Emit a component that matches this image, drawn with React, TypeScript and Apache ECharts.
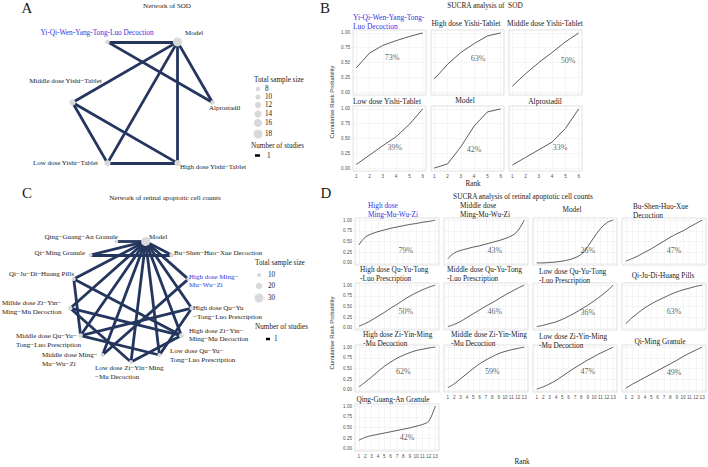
import React, { useEffect, useRef } from "react";
import * as echarts from "echarts";

// ================= DATA =================
// Panel A: network of SOD (nodes in circular order, starting at the right, clockwise)
const sodNodes = [
  "Alprostadil",
  "High dose Yishi−Tablet",
  "Low dose Yishi−Tablet",
  "Middle dose Yishi−Tablet",
  "Yi-Qi-Wen-Yang-Tong-Luo Decoction",
  "Model",
];
const sodNodeSampleSize = [8, 12, 12, 12, 8, 18];
const sodEdges: [number, number][] = [
  [4, 5], [4, 0], [5, 3], [5, 2], [5, 1], [5, 0], [3, 2], [3, 1], [2, 1],
];
const sodLegendSizes = [8, 10, 12, 14, 16, 18];

// Panel C: network of retinal apoptotic cell counts (circular order, starting at the bottom, clockwise)
const retNodes = [
  "Low dose Zi−Yin−Ming\n−Mu Decoction",
  "Middle dose Ming−\nMu−Wu−Zi",
  "Middle dose Qu−Yu−\nTong−Luo Prescription",
  "Millde dose Zi−Yin−\nMing−Mu Decoction",
  "Qi−Ju−Di−Huang Pills",
  "Qi−Ming Granule",
  "Qing−Guang−An Granule",
  "Model",
  "Bu−Shen−Huo−Xue Decoction",
  "High dose Ming−\nMu−Wu−Zi",
  "High dose Qu−Yu\n−Tong−Luo Prescription",
  "High dose Zi−Yin−\nMing−Mu Decoction",
  "Low dose Qu−Yu−\nTong−Luo Prescription",
];
const retNodeSampleSize = [10, 10, 12, 12, 10, 10, 10, 30, 12, 10, 12, 14, 10];
const retEdges: [number, number][] = [
  [7, 0], [7, 1], [7, 2], [7, 3], [7, 4], [7, 5], [7, 6], [7, 8], [7, 9], [7, 10], [7, 11], [7, 12],
  [5, 8], [11, 3], [11, 0], [3, 0], [10, 2], [10, 12], [2, 12], [9, 1], [4, 11], [4, 2],
];
const retLegendSizes = [10, 20, 30];
const studiesLegend = ["1"];

// Panel B: SUCRA of SOD
const sodRanks = [1, 2, 3, 4, 5, 6];
const sodTitles = [
  "Yi-Qi-Wen-Yang-Tong-\nLuo Decoction",
  "High dose Yishi-Tablet",
  "Middle dose Yishi-Tablet",
  "Low dose Yishi-Tablet",
  "Model",
  "Alprostadil",
];
const sodSucra = ["73%", "63%", "50%", "39%", "42%", "33%"];
const sodYiQi = [0.41, 0.66, 0.79, 0.87, 0.94, 1.0];
const sodHighYishi = [0.22, 0.47, 0.67, 0.82, 0.95, 1.0];
const sodMiddleYishi = [0.1, 0.31, 0.5, 0.67, 0.85, 1.0];
const sodLowYishi = [0.06, 0.22, 0.38, 0.53, 0.74, 1.0];
const sodModel = [0.0, 0.07, 0.36, 0.71, 0.95, 1.0];
const sodAlprostadil = [0.05, 0.18, 0.31, 0.44, 0.67, 1.0];
const sodCurves = [sodYiQi, sodHighYishi, sodMiddleYishi, sodLowYishi, sodModel, sodAlprostadil];

// Panel D: SUCRA of retinal apoptotic cell counts
const retRanks = [1, 2, 3, 4, 5, 6, 7, 8, 9, 10, 11, 12, 13];
const retTitles = [
  "High dose\nMing-Mu-Wu-Zi",
  "Middle dose\nMing-Mu-Wu-Zi",
  "Model",
  "Bu-Shen-Huo-Xue\nDecoction",
  "High dose Qu-Yu-Tong\n-Luo Prescription",
  "Middle dose Qu-Yu-Tong\n-Luo Prescription",
  "Low dose Qu-Yu-Tong\n-Luo Prescription",
  "Qi-Ju-Di-Huang Pills",
  "High dose Zi-Yin-Ming\n-Mu Decoction",
  "Middle dose Zi-Yin-Ming\n-Mu Decoction",
  "Low dose Zi-Yin-Ming\n-Mu Decoction",
  "Qi-Ming Granule",
  "Qing-Guang-An Granule",
];
const retSucra = ["79%", "43%", "26%", "47%", "50%", "46%", "36%", "63%", "62%", "59%", "47%", "49%", "42%"];
const retHighMMWZ = [0.42, 0.6, 0.68, 0.73, 0.77, 0.81, 0.84, 0.87, 0.9, 0.92, 0.95, 0.97, 1.0];
const retMiddleMMWZ = [0.1, 0.23, 0.29, 0.33, 0.37, 0.4, 0.44, 0.48, 0.52, 0.57, 0.63, 0.75, 1.0];
const retModel = [0.0, 0.0, 0.01, 0.02, 0.04, 0.07, 0.12, 0.2, 0.38, 0.6, 0.8, 0.94, 1.0];
const retBSHX = [0.04, 0.1, 0.17, 0.25, 0.33, 0.42, 0.51, 0.6, 0.68, 0.75, 0.84, 0.92, 1.0];
const retHighQYTL = [0.04, 0.1, 0.18, 0.27, 0.36, 0.46, 0.55, 0.65, 0.74, 0.82, 0.89, 0.95, 1.0];
const retMiddleQYTL = [0.03, 0.08, 0.15, 0.24, 0.33, 0.42, 0.51, 0.59, 0.68, 0.77, 0.85, 0.93, 1.0];
const retLowQYTL = [0.03, 0.06, 0.1, 0.14, 0.2, 0.27, 0.35, 0.44, 0.53, 0.63, 0.74, 0.86, 1.0];
const retQJDH = [0.1, 0.24, 0.36, 0.47, 0.56, 0.64, 0.71, 0.78, 0.84, 0.89, 0.93, 0.97, 1.0];
const retHighZYMM = [0.07, 0.18, 0.3, 0.43, 0.55, 0.65, 0.74, 0.81, 0.87, 0.92, 0.95, 0.98, 1.0];
const retMiddleZYMM = [0.05, 0.14, 0.26, 0.38, 0.5, 0.61, 0.7, 0.78, 0.85, 0.9, 0.94, 0.97, 1.0];
const retLowZYMM = [0.02, 0.07, 0.14, 0.22, 0.32, 0.42, 0.52, 0.61, 0.7, 0.78, 0.86, 0.93, 1.0];
const retQiMing = [0.04, 0.13, 0.21, 0.29, 0.37, 0.45, 0.53, 0.61, 0.69, 0.78, 0.86, 0.93, 1.0];
const retQGA = [0.2, 0.27, 0.31, 0.34, 0.37, 0.4, 0.43, 0.46, 0.49, 0.53, 0.57, 0.65, 1.0];
const retCurves = [
  retHighMMWZ, retMiddleMMWZ, retModel, retBSHX,
  retHighQYTL, retMiddleQYTL, retLowQYTL, retQJDH,
  retHighZYMM, retMiddleZYMM, retLowZYMM, retQiMing,
  retQGA,
];
const probTicks = [0, 0.25, 0.5, 0.75, 1];

// ================= LAYOUT / STYLE =================
const SERIF = '"Liberation Serif", "Times New Roman", serif';
const SANS = '"Liberation Sans", Arial, sans-serif';
const EDGE = "#24365e";
const NODE = "#d9d9d9";
const BLUE = "#3434e6";
const TXT = "#1a1a1a";

// label placement of network nodes: [align, dx, dy]
const sodLabelPos: [string, number, number][] = [
  ["left", -3.5, 5.5],
  ["left", 2.5, 4],
  ["right", -9.5, 0],
  ["center", -7, -21.5],
  ["center", -10.5, -9],
  ["left", 7.5, -9],
];
const retLabelPos: [string, number, number][] = [
  ["left", -36, 10.5],
  ["left", -60.6, 4.5],
  ["left", -64.6, 5],
  ["left", -68.2, -0.7],
  ["right", 0.2, -5],
  ["right", -5.4, -2],
  ["right", 1.6, -4.4],
  ["left", 3.4, -4.4],
  ["left", 2.4, -2],
  ["left", 0.8, 2],
  ["left", 1.2, 4.3],
  ["left", 7.6, -0.6],
  ["left", 10.6, 0.5],
];

const B_COLS = [353, 431, 509];
const B_ROWS = [30, 106];
const B_W = 73;
const B_H = 65;
const bTitlePos: [number, number, string][] = [
  [353, 21.5, "left"], [466, 23, "center"], [545, 23, "center"],
  [387, 101, "center"], [465, 100.5, "center"], [545, 101, "center"],
];
const bPctPos = [[3.7, 0.59], [4.3, 0.57], [5.2, 0.54], [3.9, 0.34], [4.0, 0.32], [4.6, 0.34]];

const D_COLS = [355, 444, 533, 622];
const D_ROWS = [218, 283, 345, 404];
const D_W = 84;
const D_H = 47;
const dTitlePos: [number, number, string][] = [
  [368, 209.5, "left"], [460, 209.5, "left"], [572, 209, "center"], [633, 210.5, "left"],
  [360, 274, "left"], [447, 273.5, "left"], [539, 276, "left"], [663, 275, "center"],
  [363, 339, "left"], [451, 338.5, "left"], [539, 340.5, "left"], [660, 341, "center"],
  [393, 399, "center"],
];
const dPctPos = [
  [8.4, 0.29], [8.4, 0.29], [9.0, 0.28], [8.6, 0.29],
  [8.4, 0.39], [8.4, 0.38], [9.0, 0.37], [8.6, 0.38],
  [8.0, 0.42], [8.0, 0.42], [9.0, 0.42], [8.6, 0.4],
  [8.6, 0.27],
];

const sodSize = (s: number) => 4.5 + (s - 8) * 0.45;
const retSize = (s: number) => 4 + (s - 10) * 0.25;

function txt(text: string, x: number, y: number, o: any = {}) {
  const align = o.align || "center";
  return {
    type: "text",
    silent: true,
    z: 20,
    x,
    y,
    rotation: o.rotation || 0,
    style: {
      text,
      x: 0,
      y: 0,
      fill: o.color || TXT,
      fontSize: o.size || 7.3,
      fontFamily: o.family || SERIF,
      align,
      verticalAlign: "middle",
      textAlign: align,
      textVerticalAlign: "middle",
      lineHeight: o.lh || 9,
    },
  };
}

function networkSeries(
  names: string[], sizes: number[], edges: [number, number][],
  cx: number, cy: number, r: number, startDeg: number,
  labelPos: [string, number, number][], sizeFn: (s: number) => number, blueIdx: number, blueSize: number
) {
  const n = names.length;
  const pts = names.map((_, i) => {
    const a = ((startDeg + (i * 360) / n) * Math.PI) / 180;
    return [cx + r * Math.cos(a), cy + r * Math.sin(a)];
  });
  const xs = pts.map((p) => p[0]);
  const ys = pts.map((p) => p[1]);
  const minX = Math.min(...xs);
  const maxX = Math.max(...xs);
  const minY = Math.min(...ys);
  const maxY = Math.max(...ys);
  return {
    type: "graph",
    layout: "none",
    silent: true,
    roam: false,
    left: minX,
    top: minY,
    width: maxX - minX,
    height: maxY - minY,
    symbol: "circle",
    z: 5,
    data: names.map((name, i) => ({
      name,
      x: pts[i][0],
      y: pts[i][1],
      symbolSize: sizeFn(sizes[i]),
      label: {
        show: true,
        position: "inside",
        align: labelPos[i][0],
        verticalAlign: "middle",
        offset: [labelPos[i][1], labelPos[i][2]],
        color: i === blueIdx ? BLUE : TXT,
        fontSize: i === blueIdx ? blueSize : 7,
        fontFamily: SERIF,
        lineHeight: 8.6,
        formatter: "{b}",
      },
    })),
    links: edges.map(([s, t]) => ({ source: s, target: t })),
    lineStyle: { color: EDGE, width: 2.8, opacity: 1, curveness: 0 },
    itemStyle: { color: NODE, borderWidth: 0, opacity: 1 },
    emphasis: { disabled: true },
  };
}

function buildOption() {
  const grids: any[] = [];
  const xAxes: any[] = [];
  const yAxes: any[] = [];
  const series: any[] = [];
  const graphic: any[] = [];

  function addPanel(
    left: number, top: number, w: number, h: number, ranks: number[], values: number[],
    showX: boolean, showY: boolean, pct: string, pctPos: number[], smooth: number | boolean
  ) {
    const i = grids.length;
    const n = ranks.length;
    const pad = (n - 1) * 0.05;
    grids.push({
      left, top, width: w, height: h, show: true,
      borderColor: "#cfcfcf", borderWidth: 0.6, backgroundColor: "#ffffff",
      containLabel: false, outerBoundsMode: "none",
    });
    xAxes.push({
      gridIndex: i, type: "value", min: 1 - pad, max: n + pad,
      axisLine: { show: false },
      axisTick: { show: false, customValues: ranks },
      axisLabel: {
        show: showX, customValues: ranks, fontSize: 4.6, color: "#4d4d4d",
        fontFamily: SANS, margin: 2.5, hideOverlap: false,
        showMinLabel: true, showMaxLabel: true,
      },
      splitLine: { show: true, lineStyle: { color: "#ebebeb", width: 0.5 } },
    });
    yAxes.push({
      gridIndex: i, type: "value", min: -0.05, max: 1.05,
      axisLine: { show: false },
      axisTick: { show: false, customValues: probTicks },
      axisLabel: {
        show: showY, customValues: probTicks, fontSize: 4.6, color: "#4d4d4d",
        fontFamily: SANS, margin: 3, formatter: (v: number) => v.toFixed(2),
        showMinLabel: true, showMaxLabel: true,
      },
      splitLine: { show: true, lineStyle: { color: "#ebebeb", width: 0.5 } },
    });
    series.push({
      type: "line", xAxisIndex: i, yAxisIndex: i, silent: true, z: 3,
      data: ranks.map((r, k) => [r, values[k]]),
      symbol: "none", showSymbol: false, smooth,
      lineStyle: { color: "#333333", width: 0.8 },
    });
    series.push({
      type: "scatter", xAxisIndex: i, yAxisIndex: i, silent: true, z: 4,
      data: [pctPos], symbolSize: 1,
      itemStyle: { color: "rgba(0,0,0,0)" },
      label: {
        show: true, position: "inside", formatter: pct,
        fontSize: 8, fontFamily: SERIF, color: "#333333",
      },
    });
  }

  // Panel B
  sodCurves.forEach((vals, k) => {
    const row = Math.floor(k / 3);
    const col = k % 3;
    addPanel(B_COLS[col], B_ROWS[row], B_W, B_H, sodRanks, vals, row === 1, col === 0, sodSucra[k], bPctPos[k], false);
    const [tx, ty, al] = bTitlePos[k];
    graphic.push(txt(sodTitles[k], tx, ty, { align: al, color: k === 0 ? BLUE : TXT, size: 7.5 }));
  });

  // Panel D
  retCurves.forEach((vals, k) => {
    const row = Math.floor(k / 4);
    const col = k % 4;
    const showX = row === 3 || (row === 2 && col > 0);
    addPanel(D_COLS[col], D_ROWS[row], D_W, D_H, retRanks, vals, showX, col === 0, retSucra[k], dPctPos[k], 0.35);
    const [tx, ty, al] = dTitlePos[k];
    graphic.push(txt(retTitles[k], tx, ty, { align: al, color: k === 0 ? BLUE : TXT, size: 7.3 }));
  });

  // Networks
  series.push(networkSeries(sodNodes, sodNodeSampleSize, sodEdges, 142.5, 102.5, 70, 0, sodLabelPos, sodSize, 4, 7.3));
  series.push(networkSeries(retNodes, retNodeSampleSize, retEdges, 131, 300.8, 61.2, 90, retLabelPos, retSize, 9, 7));

  // Panel letters and titles
  graphic.push(txt("A", 27, 8, { size: 15 }));
  graphic.push(txt("B", 325, 8, { size: 15 }));
  graphic.push(txt("C", 27, 193, { size: 15 }));
  graphic.push(txt("D", 326, 193, { size: 15 }));
  graphic.push(txt("Network of SOD", 167, 5.5, { size: 7 }));
  graphic.push(txt("SUCRA analysis of  SOD", 485, 5.5, { size: 7.3 }));
  graphic.push(txt("Network of retinal apoptotic cell counts", 165, 198, { size: 7 }));
  graphic.push(txt("SUCRA analysis of retinal apoptotic cell counts", 523, 196, { size: 7.3 }));
  graphic.push(txt("Rank", 473, 184, { size: 7.2 }));
  graphic.push(txt("Rank", 522, 462, { size: 7.2 }));
  graphic.push(txt("Cumulative Rank Probability", 332, 102, { size: 5.8, family: SANS, color: "#333333", rotation: Math.PI / 2 }));
  graphic.push(txt("Cumulative Rank Probability", 332, 333, { size: 5.8, family: SANS, color: "#333333", rotation: Math.PI / 2 }));

  // Legend A
  graphic.push(txt("Total sample size", 254, 80, { align: "left", size: 7.2 }));
  const sodLegendY = [89, 97, 105, 114, 123, 134];
  sodLegendSizes.forEach((s, k) => {
    graphic.push({ type: "circle", silent: true, z: 20, shape: { cx: 258, cy: sodLegendY[k], r: sodSize(s) / 2 }, style: { fill: NODE } });
    graphic.push(txt(String(s), 265, sodLegendY[k], { align: "left", size: 7.2 }));
  });
  graphic.push(txt("Number of studies", 251, 146, { align: "left", size: 7.2 }));
  graphic.push({ type: "line", silent: true, z: 20, shape: { x1: 255, y1: 155.5, x2: 260, y2: 155.5 }, style: { stroke: "#000", lineWidth: 2.5 } });
  graphic.push(txt(studiesLegend[0], 267, 155.5, { align: "left", size: 7.2 }));

  // Legend C
  graphic.push(txt("Total sample size", 255, 263, { align: "left", size: 7.2 }));
  const retLegendY = [275, 286, 298];
  retLegendSizes.forEach((s, k) => {
    graphic.push({ type: "circle", silent: true, z: 20, shape: { cx: 259, cy: retLegendY[k], r: retSize(s) / 2 }, style: { fill: NODE } });
    graphic.push(txt(String(s), 268, retLegendY[k], { align: "left", size: 7.2 }));
  });
  graphic.push(txt("Number of studies", 255, 327, { align: "left", size: 7.2 }));
  graphic.push({ type: "line", silent: true, z: 20, shape: { x1: 266, y1: 339, x2: 270, y2: 339 }, style: { stroke: "#000", lineWidth: 2.5 } });
  graphic.push(txt(studiesLegend[0], 274, 339, { align: "left", size: 7.2 }));

  return {
    animation: false,
    backgroundColor: "#ffffff",
    grid: grids,
    xAxis: xAxes,
    yAxis: yAxes,
    series,
    graphic,
  };
}

export default function App() {
  const ref = useRef<HTMLDivElement>(null);
  useEffect(() => {
    if (!ref.current) return;
    const chart = echarts.init(ref.current, null, { renderer: "svg" });
    chart.setOption(buildOption() as any);
    return () => chart.dispose();
  }, []);
  return (
    <div
      ref={ref}
      style={{ position: "absolute", left: 0, top: 0, width: 708, height: 467, background: "#fff" }}
    />
  );
}
